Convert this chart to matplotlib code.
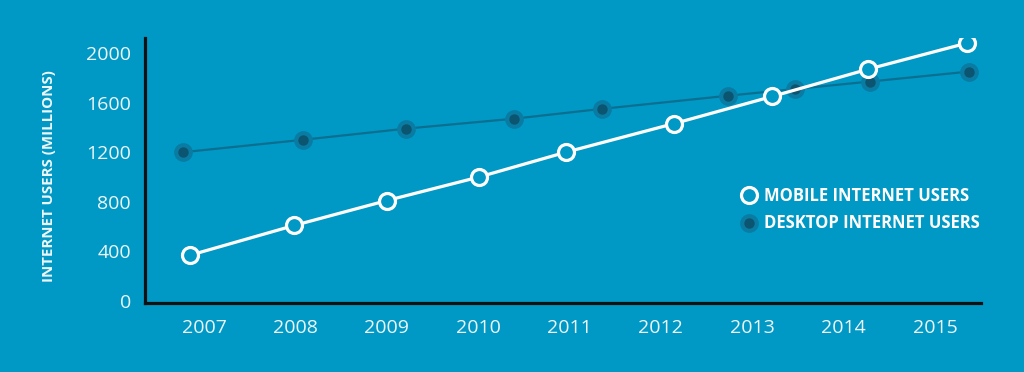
import matplotlib
matplotlib.use("Agg")
import matplotlib.pyplot as plt
from matplotlib.lines import Line2D
from matplotlib.legend_handler import HandlerTuple

plt.rcParams['font.family'] = ['Open Sans', 'DejaVu Sans']

# data (x positions are where the points sit, in years)
years = [2007, 2008, 2009, 2010, 2011, 2012, 2013, 2014, 2015]
mobile_x = [2006.85, 2007.99, 2009.00, 2010.01, 2010.96, 2012.14, 2013.22, 2014.27, 2015.35]
mobile_users = [370, 610, 810, 1000, 1200, 1430, 1650, 1870, 2080]
desktop_x = [2006.77, 2008.08, 2009.21, 2010.39, 2011.36, 2012.73, 2013.47, 2014.29, 2015.37]
desktop_users = [1200, 1300, 1390, 1470, 1550, 1655, 1710, 1770, 1850]
yticks = [0, 400, 800, 1200, 1600, 2000]

bg = '#0099c5'
ring = '#0a7ca3'
dark = '#0b5571'
dline = '#0b6f91'

fig = plt.figure(figsize=(10.24, 3.72), dpi=100)
fig.patch.set_facecolor(bg)
ax = fig.add_axes([145/1024, 69/372, 836/1024, 265/372])
ax.set_facecolor(bg)

# desktop: line, outer ring, inner dot
ax.plot(desktop_x, desktop_users, color=dline, lw=1.6, zorder=2)
ax.plot(desktop_x, desktop_users, 'o', ms=13.5, color=ring, mec='none', zorder=3)
ax.plot(desktop_x, desktop_users, 'o', ms=7.5, color=dark, mec='none', zorder=4)

# mobile
ax.plot(mobile_x, mobile_users, color='white', lw=2.3, marker='o', ms=11.5,
        mfc=bg, mec='white', mew=2.3, zorder=5)

ax.set_xlim(2006.354, 2015.503)
ax.set_ylim(-16, 2121)
ax.set_xticks(years)
ax.set_xticklabels([str(y) for y in years])
ax.set_yticks(yticks)

for s in ['top', 'right']:
    ax.spines[s].set_visible(False)
for s in ['left', 'bottom']:
    ax.spines[s].set_linewidth(2.3)
    ax.spines[s].set_color('#111111')

ax.tick_params(axis='both', length=0, colors='#eef7fa', labelsize=14)
ax.tick_params(axis='y', pad=10)
ax.tick_params(axis='x', pad=11.5)

ax.set_ylabel('INTERNET USERS (MILLIONS)', color='#eef7fa', fontsize=10.8,
              fontweight='bold')
ax.yaxis.set_label_coords(-0.1065, 0.479)

h_mob = Line2D([], [], ls='none', marker='o', ms=11.5, mfc=bg, mec='white', mew=2.3)
h_out = Line2D([], [], ls='none', marker='o', ms=13.5, color=ring, mec='none')
h_in = Line2D([], [], ls='none', marker='o', ms=7.5, color=dark, mec='none')
leg = ax.legend([h_mob, (h_out, h_in)], ['MOBILE INTERNET USERS', 'DESKTOP INTERNET USERS'],
                handler_map={tuple: HandlerTuple(ndivide=1, pad=0)},
                loc='upper left', bbox_to_anchor=(740/1024, 1 - 187/372),
                bbox_transform=fig.transFigure, frameon=False,
                handlelength=1.1, handletextpad=0.35, labelspacing=0.57,
                borderpad=0, borderaxespad=0,
                prop={'weight': 'bold', 'size': 12})
for t in leg.get_texts():
    t.set_color('white')

fig.savefig('out.png', dpi=100, facecolor=bg)
